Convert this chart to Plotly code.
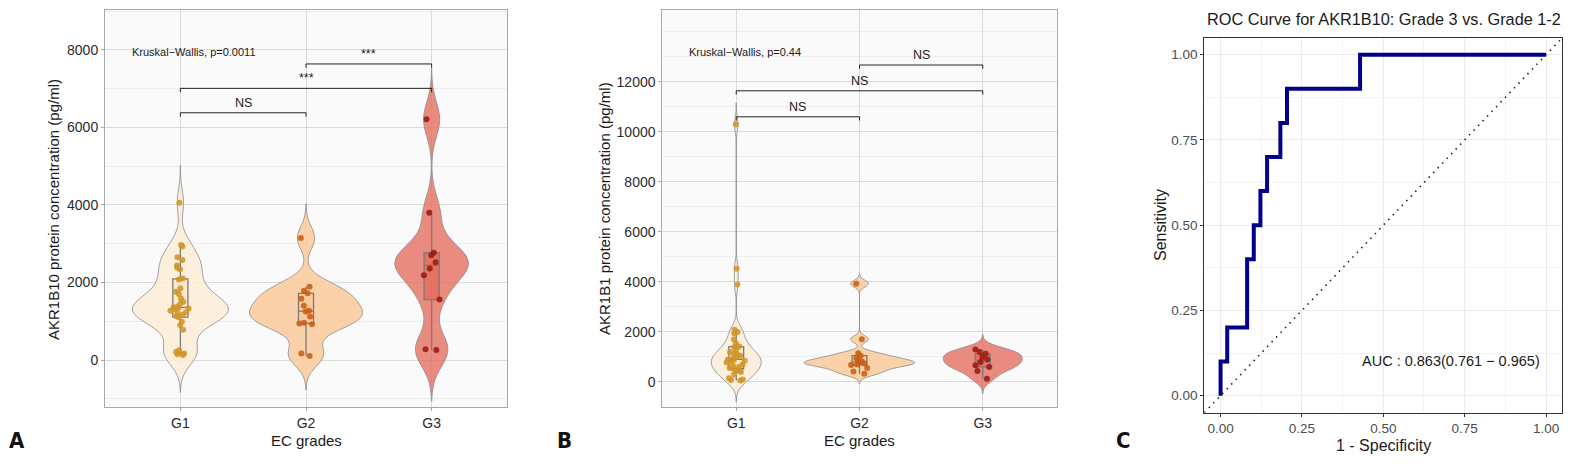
import numpy as np
import plotly.graph_objects as go

grades = ["G1", "G2", "G3"]

# panel A: AKR1B10 (pg/ml)
akr1b10_g1 = [130, 150, 170, 215, 250, 780, 900, 990, 1100, 1130, 1160, 1200,
              1230, 1270, 1300, 1330, 1345, 1360, 1380, 1450, 1500, 1590, 1700,
              1760, 1850, 2080, 2100, 2340, 2390, 2440, 2580, 2650, 2930, 2970, 4060]
akr1b10_g2 = [100, 170, 920, 945, 960, 1120, 1250, 1270, 1400, 1580, 1720, 1790, 1890, 3150]
akr1b10_g3 = [255, 275, 1560, 2190, 2360, 2520, 2700, 2770, 3800, 6210]

# panel B: AKR1B1 (pg/ml)
akr1b1_g1 = [60, 80, 100, 150, 300, 400, 440, 470, 520, 560, 600, 650, 700, 780,
             820, 850, 880, 900, 950, 1000, 1050, 1100, 1150, 1200, 1300, 1390,
             1420, 1540, 1700, 1940, 2000, 2090, 3900, 4530, 10300]
akr1b1_g2 = [330, 420, 560, 680, 700, 740, 780, 820, 880, 950, 1050, 1150, 1710, 3930]
akr1b1_g3 = [133, 440, 600, 670, 800, 900, 1000, 1130, 1200, 1300]

kw_akr1b10 = "Kruskal\u2212Wallis, p=0.0011"
kw_akr1b1 = "Kruskal\u2212Wallis, p=0.44"

pairs = [("G1", "G2"), ("G1", "G3"), ("G2", "G3")]
akr1b10_sig = ["NS", "***", "***"]
akr1b10_bracket_y = [6380, 7010, 7640]
akr1b1_sig = ["NS", "NS", "NS"]
akr1b1_bracket_y = [10600, 11640, 12670]

# panel C: ROC curve, grade 3 vs grade 1-2
roc_fpr = [0, 0, 0.0204, 0.0204, 0.0816, 0.0816, 0.102, 0.102, 0.1224, 0.1224,
           0.1429, 0.1429, 0.1837, 0.1837, 0.2041, 0.2041, 0.4286, 0.4286, 1.0]
roc_tpr = [0, 0.1, 0.1, 0.2, 0.2, 0.4, 0.4, 0.5, 0.5, 0.6, 0.6, 0.7, 0.7, 0.8,
           0.8, 0.9, 0.9, 1.0, 1.0]
auc_label = "AUC : 0.863(0.761 \u2212 0.965)"

violin_fill = ["rgba(252,236,214,0.85)", "rgba(250,204,160,0.9)", "rgba(230,108,92,0.78)"]
box_fill = ["rgba(252,230,200,0.6)", "rgba(248,196,150,0.6)", "rgba(228,96,78,0.6)"]
point_col = ["#D0952A", "#C85E14", "#9A1A12"]

FONT = "Liberation Sans, Arial, sans-serif"

# the page body keeps its default 8px margin, so lay out in reference pixels
OFF = 8
W, H = 1555, 448


def X(px):
    return (px - OFF) / W


def Y(py):
    return 1 - (py - OFF) / H


def bw_nrd0(v):
    v = np.asarray(v, float)
    q75, q25 = np.percentile(v, [75, 25])
    lo = min(v.std(ddof=1), (q75 - q25) / 1.34)
    return 0.9 * lo * len(v) ** -0.2


def kde_peak(v, bw):
    v = np.asarray(v, float)
    grid = np.linspace(v.min() - 3 * bw, v.max() + 3 * bw, 512)
    d = np.exp(-0.5 * ((grid[:, None] - v[None, :]) / bw) ** 2).sum(1)
    return d.max() / (len(v) * bw * np.sqrt(2 * np.pi))


fig = go.Figure()


def add_panel(groups, n):
    bws = [bw_nrd0(v) for v in groups]
    peaks = [kde_peak(v, b) for v, b in zip(groups, bws)]
    top = max(peaks)
    for i, (vals, bw, pk) in enumerate(zip(groups, bws, peaks)):
        w = 0.9 * pk / top
        fig.add_trace(go.Violin(
            x=[grades[i]] * len(vals), y=vals,
            xaxis="x" if n == 1 else "x%d" % n, yaxis="y" if n == 1 else "y%d" % n,
            bandwidth=bw, spanmode="manual", span=[min(vals) - 3 * bw, max(vals) + 3 * bw],
            width=w, scalemode="width",
            fillcolor=violin_fill[i], line=dict(color="#8a8a8a", width=0.8),
            box=dict(visible=True, width=min(1, 0.12 / w), fillcolor=box_fill[i],
                     line=dict(color="#7a7a7a", width=1.3)),
            meanline_visible=False,
            points="all", pointpos=0, jitter=min(1, 0.18 * 0.9 / w),
            marker=dict(color=point_col[i], size=6, opacity=0.88, line_width=0),
            showlegend=False, hoveron="points",
        ))


add_panel([akr1b10_g1, akr1b10_g2, akr1b10_g3], 1)
add_panel([akr1b1_g1, akr1b1_g2, akr1b1_g3], 2)

fig.add_trace(go.Scatter(
    x=roc_fpr, y=roc_tpr, xaxis="x3", yaxis="y3", mode="lines",
    line=dict(color="#00008B", width=4), showlegend=False,
))

dom_a = [X(105), X(507)]
dom_b = [X(662.3), X(1056.7)]
dom_c = [X(1204.3), X(1562.3)]
ydom_ab = [Y(407), Y(10)]
ydom_c = [Y(412.7), Y(37.7)]

tickfont = dict(family=FONT, size=14, color="#2b2b2b")


def cat_axis(dom, anchor):
    return dict(domain=dom, anchor=anchor, type="category",
                categoryorder="array", categoryarray=grades, range=[-0.6, 2.6],
                showgrid=True, gridcolor="#DADADA", gridwidth=1,
                showline=True, mirror=True, linecolor="#A8A8A8", linewidth=1,
                ticks="outside", ticklen=3, tickcolor="#A8A8A8",
                tickfont=tickfont, zeroline=False)


def val_axis(dom, anchor, rng, tickvals, minor_vals):
    return dict(domain=dom, anchor=anchor, range=rng, tickvals=tickvals,
                ticktext=[str(t) for t in tickvals],
                showgrid=True, gridcolor="#DADADA", gridwidth=1,
                minor=dict(tickvals=minor_vals, showgrid=True, gridcolor="#EDEDED",
                           gridwidth=0.8, ticks=""),
                showline=True, mirror=True, linecolor="#A8A8A8", linewidth=1,
                ticks="outside", ticklen=3, tickcolor="#A8A8A8",
                tickfont=tickfont, zeroline=False)


def roc_axis(dom, anchor):
    return dict(domain=dom, anchor=anchor, range=[-0.05, 1.05],
                tickvals=[0, 0.25, 0.5, 0.75, 1.0],
                ticktext=["0.00", "0.25", "0.50", "0.75", "1.00"],
                showgrid=True, gridcolor="#EBEBEB", gridwidth=1.1,
                minor=dict(tickvals=[0.125, 0.375, 0.625, 0.875], showgrid=True,
                           gridcolor="#F3F3F3", gridwidth=0.7, ticks=""),
                showline=True, mirror=True, linecolor="#333333", linewidth=1,
                ticks="outside", ticklen=3, tickcolor="#333333",
                tickfont=dict(family=FONT, size=13.5, color="#4D4D4D"), zeroline=False)


fig.update_layout(
    width=W, height=H,
    margin=dict(l=0, r=0, t=0, b=0),
    paper_bgcolor="white", plot_bgcolor="white",
    violinmode="overlay",
    font=dict(family=FONT, color="#1a1a1a"),
    xaxis=cat_axis(dom_a, "y"),
    yaxis=val_axis(ydom_ab, "x", [-1213, 9032], [0, 2000, 4000, 6000, 8000],
                   [-1000, 1000, 3000, 5000, 7000, 9000]),
    xaxis2=cat_axis(dom_b, "y2"),
    yaxis2=val_axis(ydom_ab, "x2", [-1000, 14870],
                    [0, 2000, 4000, 6000, 8000, 10000, 12000],
                    [1000, 3000, 5000, 7000, 9000, 11000, 13000, 14000]),
    xaxis3=roc_axis(dom_c, "y3"),
    yaxis3=roc_axis(ydom_c, "x3"),
)

shapes = []
# grey panel backgrounds for the violin panels
for xr, yr in [("x", "y"), ("x2", "y2")]:
    shapes.append(dict(type="rect", xref=xr + " domain", yref=yr + " domain",
                       x0=0, x1=1, y0=0, y1=1, fillcolor="#FAFAFA",
                       line_width=0, layer="below"))

annotations = []


def add_brackets(xr, yr, ys, sigs, drop, sig_size):
    for (a, b), y, s in zip(pairs, ys, sigs):
        for x0, x1, y0, y1 in [(a, b, y, y), (a, a, y, y - drop), (b, b, y, y - drop)]:
            shapes.append(dict(type="line", xref=xr, yref=yr, x0=x0, x1=x1, y0=y0, y1=y1,
                               line=dict(color="#222222", width=1)))
        mid = (grades.index(a) + grades.index(b)) / 2
        annotations.append(dict(xref=xr, yref=yr, x=mid, y=y, text=s, showarrow=False,
                                xanchor="center", yanchor="bottom", yshift=1,
                                font=dict(family=FONT, size=sig_size, color="#1a1a1a")))


add_brackets("x", "y", akr1b10_bracket_y, akr1b10_sig, 100, 12.5)
add_brackets("x2", "y2", akr1b1_bracket_y, akr1b1_sig, 150, 12.5)

annotations.append(dict(xref="x domain", yref="y", x=0.062, y=7940, text=kw_akr1b10,
                        showarrow=False, xanchor="left", yanchor="middle",
                        font=dict(family=FONT, size=11, color="#1a1a1a")))
annotations.append(dict(xref="x2 domain", yref="y2", x=0.062, y=13180, text=kw_akr1b1,
                        showarrow=False, xanchor="left", yanchor="middle",
                        font=dict(family=FONT, size=11, color="#1a1a1a")))

# diagonal reference line y = x across the ROC panel
lo, hi = fig.layout.xaxis3.range
shapes.append(dict(type="line", xref="x3", yref="y3", x0=lo, y0=lo, x1=hi, y1=hi,
                   line=dict(color="#222222", width=1.6, dash="1.5px,5px")))
annotations.append(dict(xref="x3", yref="y3", x=0.428, y=0.102, text=auc_label,
                        showarrow=False, xanchor="left", yanchor="middle",
                        font=dict(family=FONT, size=14.5, color="#1a1a1a")))

ttl = dict(family=FONT, size=15, color="#1a1a1a")


def note(x, y, text, font, angle=0, xref="paper", xanchor="center"):
    annotations.append(dict(xref=xref, yref="paper", x=x, y=y, text=text, textangle=angle,
                            showarrow=False, xanchor=xanchor, yanchor="middle", font=font))


note(X(53), Y(210), "AKR1B10 protein concentration (pg/ml)", ttl, -90)
note(1, Y(440), "EC grades", ttl, xref="x")
note(X(604), Y(209), "AKR1B1 protein concentration (pg/ml)", ttl, -90)
note(1, Y(440), "EC grades", ttl, xref="x2")
note(X(1160), Y(225), "Sensitivity", dict(family=FONT, size=16, color="#1a1a1a"), -90)
note(0.5, Y(445), "1 - Specificity", dict(family=FONT, size=16, color="#1a1a1a"), xref="x3")
note(X(1205), Y(19), "ROC Curve for AKR1B10: Grade 3 vs. Grade 1-2",
     dict(family=FONT, size=16.3, color="#1a1a1a"), xanchor="left")

panel_font = dict(family="Liberation Sans Narrow, DejaVu Sans Condensed, sans-serif",
                  size=22, color="#111111")
for lbl, px in [("<b>A</b>", 17), ("<b>B</b>", 564), ("<b>C</b>", 1123)]:
    note(X(px), Y(440), lbl, panel_font)

fig.update_layout(shapes=shapes, annotations=annotations)

fig.write_html("out.html")
